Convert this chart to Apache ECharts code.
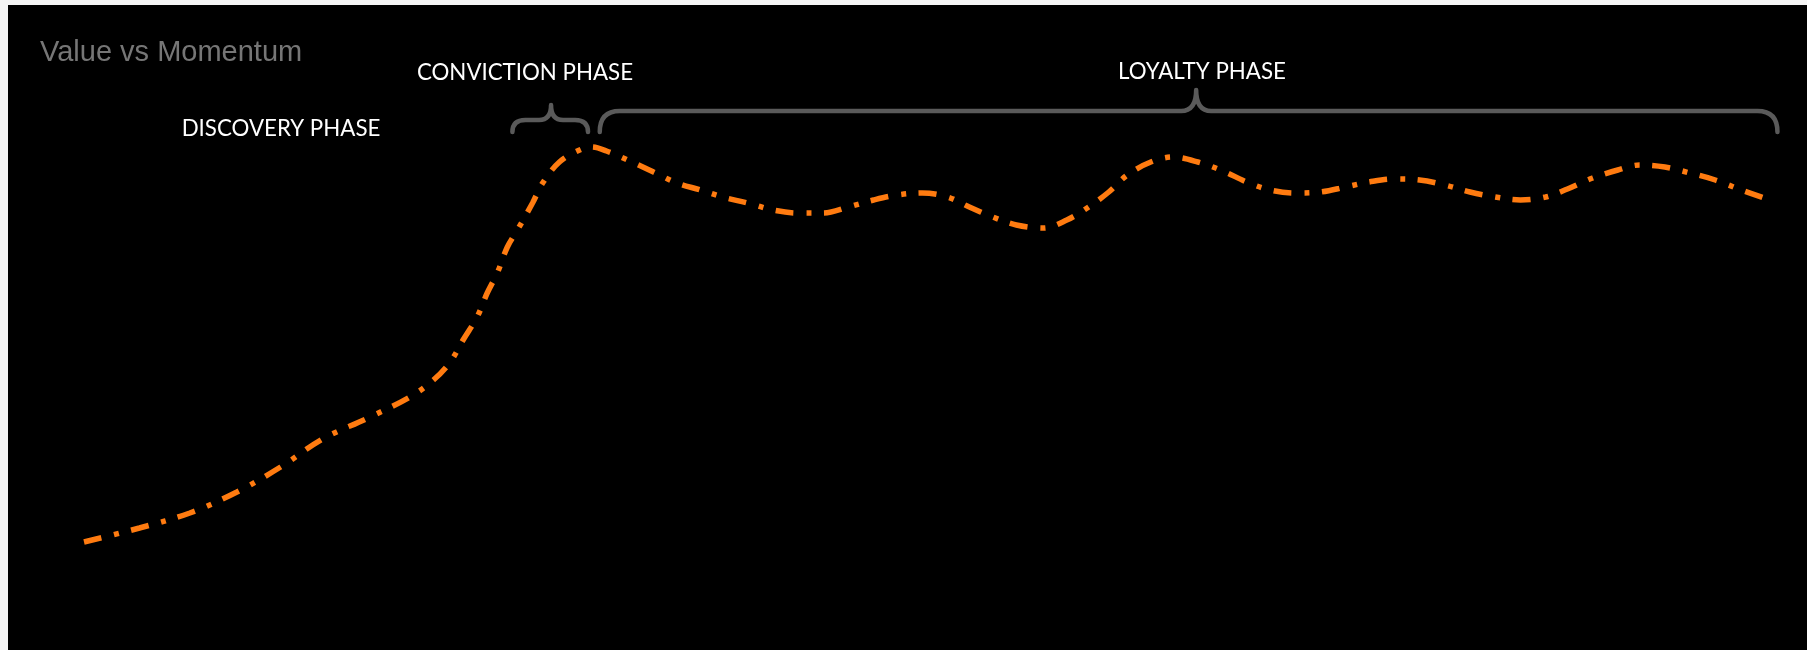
<!DOCTYPE html>
<html>
<head>
<meta charset="utf-8">
<script src="https://cdn.jsdelivr.net/npm/echarts@6/dist/echarts.min.js"></script>
<style>
  html, body { margin: 0; padding: 0; background: #f5f5f5; }
  #chart { width: 1807px; height: 650px; }
</style>
</head>
<body>
<div id="chart"></div>
<script>
// ---- data (timeline position 0-100, momentum index) ----
const timeline = [0, 3.3, 6.3, 9.1, 11.7, 14.2, 16.9, 19.4, 20.8, 21.8, 22.6, 23.4, 24.0, 24.6, 25.2, 25.8, 26.7, 27.3, 28.3, 29.5,
  30.2, 31.1, 32.5, 33.9, 35.3, 36.7, 38.0, 39.5, 41.0, 42.5, 44.0, 45.5, 47.0, 48.4, 49.9, 51.4, 52.7, 54.1, 55.5, 57.1,
  58.5, 59.8, 61.0, 62.1, 63.5, 64.8, 66.3, 67.8, 69.2, 70.6, 72.1, 73.6, 75.1, 76.5, 78.0, 79.5, 81.0, 82.5, 84.0, 85.5,
  87.0, 88.3, 89.8, 91.3, 92.6, 94.1, 95.6, 97.1, 98.5, 100];
const momentum = [11.6, 14.4, 17.4, 21.6, 26.6, 32.2, 36.4, 40.6, 44.0, 47.6, 52.2, 56.6, 61.4, 65.4, 70.6, 74.0, 79.4, 83.4, 87.6, 90.0,
  90.6, 89.8, 87.8, 85.6, 83.4, 82.0, 80.6, 79.4, 78.0, 77.4, 77.4, 78.6, 80.0, 81.0, 81.4, 80.6, 78.6, 76.6, 75.0, 74.4,
  76.0, 78.6, 81.6, 85.0, 87.6, 88.6, 87.6, 85.8, 83.6, 82.0, 81.4, 81.6, 82.6, 83.6, 84.2, 84.0, 83.0, 81.6, 80.6, 80.0,
  80.6, 82.2, 84.4, 86.0, 87.0, 86.6, 85.4, 84.0, 82.2, 80.4];

const phaseNames = ['DISCOVERY PHASE', 'CONVICTION PHASE', 'LOYALTY PHASE'];
const braceStart = [null, 25.5, 30.7];
const braceEnd   = [null, 30.0, 100.8];
const bracePeak  = [null, 27.8, 66.2];

const titleText = 'Value vs Momentum';

// ---- chart ----
const chart = echarts.init(document.getElementById('chart'), null, { renderer: 'canvas' });

const lineData = timeline.map((t, i) => [t, momentum[i]]);
const braceData = [];
for (let i = 0; i < phaseNames.length; i++) {
  if (braceStart[i] != null) braceData.push([braceStart[i], braceEnd[i], bracePeak[i], 100]);
}

const labelFont = 'Lato, "Open Sans", sans-serif';
const labelPos = [
  { x: 281, y: 129 },
  { x: 525, y: 73 },
  { x: 1202, y: 72 }
];

const option = {
  animation: false,
  backgroundColor: 'transparent',
  grid: { left: 84, right: 43, top: 0, bottom: 50, containLabel: false },
  xAxis: { type: 'value', min: 0, max: 100, show: false, splitLine: { show: false } },
  yAxis: { type: 'value', min: 0, max: 120, show: false, splitLine: { show: false } },
  graphic: [
    { type: 'rect', z: -100, shape: { x: 8, y: 5, width: 1799, height: 645 }, style: { fill: '#000000' }, silent: true },
    { type: 'text', z: 10, x: 40, y: 53, style: { text: titleText, fill: '#767676',
      font: '29px "Liberation Sans", Arial, sans-serif', textAlign: 'left', textVerticalAlign: 'middle' } }
  ].concat(phaseNames.map((n, i) => ({
    type: 'text', z: 10, x: labelPos[i].x, y: labelPos[i].y,
    style: { text: n, fill: '#ffffff', font: '22.3px ' + labelFont, textAlign: 'center', textVerticalAlign: 'middle' }
  }))),
  series: [
    {
      type: 'line',
      data: lineData,
      smooth: 0.35,
      showSymbol: false,
      symbol: 'none',
      lineStyle: { color: '#ff7b10', width: 5.5, type: [18, 13, 5, 12.5], cap: 'butt' },
      z: 3
    },
    {
      type: 'custom',
      coordinateSystem: 'cartesian2d',
      clip: false,
      data: braceData,
      encode: { x: [0, 1, 2], y: 3 },
      renderItem: function (params, api) {
        const x0 = api.coord([api.value(0), 0])[0];
        const x1 = api.coord([api.value(1), 0])[0];
        const xm = api.coord([api.value(2), 0])[0];
        const big = (x1 - x0) > 200;
        const yb = 132;
        const yl = big ? 111 : 120;
        const yp = big ? 90 : 105;
        const rc = big ? 20 : 13;
        const rt = big ? 15 : 12;
        const d = 'M' + x0 + ' ' + yb +
          ' Q' + x0 + ' ' + yl + ' ' + (x0 + rc) + ' ' + yl +
          ' L' + (xm - rt) + ' ' + yl +
          ' Q' + xm + ' ' + yl + ' ' + xm + ' ' + yp +
          ' Q' + xm + ' ' + yl + ' ' + (xm + rt) + ' ' + yl +
          ' L' + (x1 - rc) + ' ' + yl +
          ' Q' + x1 + ' ' + yl + ' ' + x1 + ' ' + yb;
        return {
          type: 'path',
          shape: { pathData: d },
          style: { stroke: '#5a5a5a', lineWidth: 4.5, fill: null, lineCap: 'round', lineJoin: 'round' }
        };
      },
      z: 2
    }
  ]
};

chart.setOption(option);
</script>
</body>
</html>
